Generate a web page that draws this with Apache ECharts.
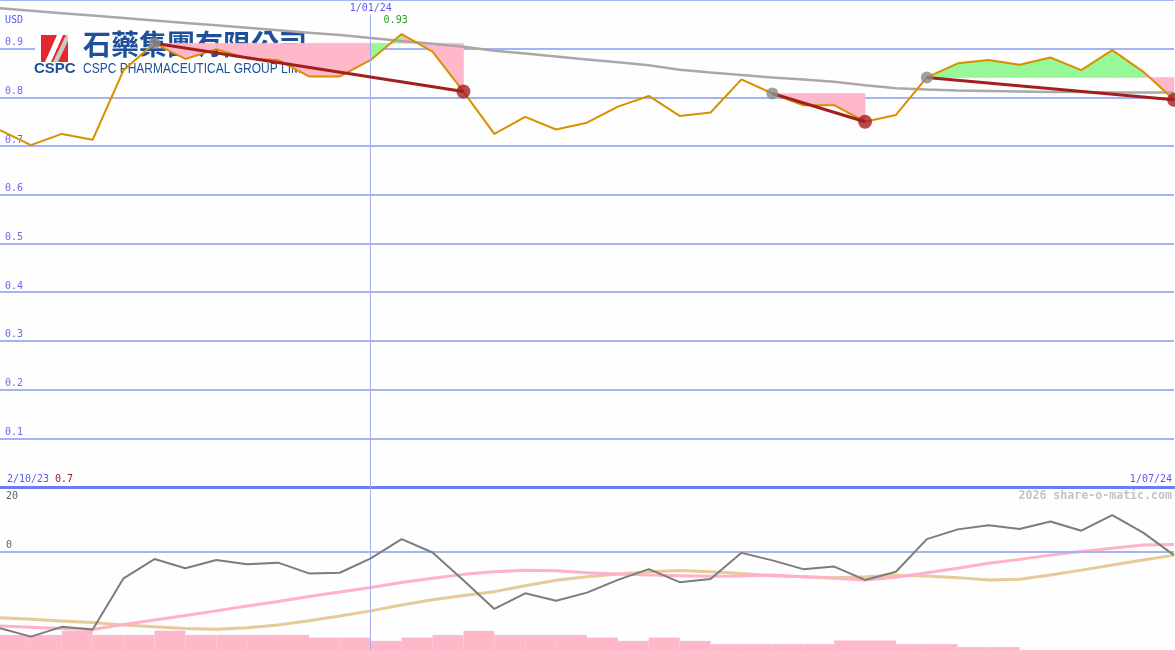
<!DOCTYPE html>
<html><head><meta charset="utf-8">
<script src="https://cdn.jsdelivr.net/npm/echarts@6/dist/echarts.min.js"></script>
<style>html,body{margin:0;padding:0;background:#fdfefd;}#c{width:1175px;height:650px;}</style>
</head><body><div id="c"></div>
<script>
// ---- data ----
const dates = ['9/10/23','16/10/23','23/10/23','30/10/23','6/11/23','13/11/23','20/11/23','27/11/23','4/12/23','11/12/23','18/12/23','25/12/23','1/01/24',
  '8/01/24','15/01/24','22/01/24','29/01/24','5/02/24','12/02/24','19/02/24','26/02/24','4/03/24','11/03/24','18/03/24','25/03/24','1/04/24',
  '8/04/24','15/04/24','22/04/24','29/04/24','6/05/24','13/05/24','20/05/24','27/05/24','3/06/24','10/06/24','17/06/24','24/06/24','1/07/24'];
const price = [0.733,0.702,0.725,0.713,0.856,0.911,0.879,0.899,0.880,0.877,0.843,0.843,0.877,
  0.930,0.894,0.812,0.725,0.760,0.734,0.748,0.781,0.803,0.762,0.769,0.837,0.808,
  0.784,0.784,0.750,0.764,0.841,0.870,0.877,0.867,0.882,0.856,0.897,0.853,0.795];
const priceAvg = [0.983,0.978,0.973,0.968,0.963,0.958,0.953,0.948,0.943,0.938,0.933,0.928,0.922,
  0.916,0.910,0.904,0.896,0.890,0.884,0.878,0.872,0.866,0.857,0.851,0.846,0.841,
  0.837,0.832,0.825,0.819,0.816,0.814,0.813,0.812,0.811,0.811,0.810,0.810,0.810];
const oscillator = [-23.3,-25.9,-22.9,-23.7,-8.0,-2.1,-4.9,-2.4,-3.7,-3.2,-6.5,-6.3,-1.9,
  4.0,-0.1,-8.6,-17.4,-12.6,-14.9,-12.4,-8.5,-5.2,-9.2,-8.2,-0.2,-2.5,
  -5.2,-4.4,-8.5,-6.0,4.0,7.0,8.3,7.1,9.4,6.6,11.4,6.0,-0.9];
const oscFast = [-22.6,-23.0,-23.4,-23.7,-22.2,-20.8,-19.4,-18.0,-16.5,-15.1,-13.6,-12.2,-10.8,
  -9.3,-8.0,-6.8,-6.0,-5.5,-5.7,-6.3,-6.7,-7.0,-7.2,-7.4,-7.3,-7.0,
  -7.5,-8.0,-8.5,-7.7,-6.3,-4.9,-3.4,-2.2,-0.9,0.2,1.2,2.2,2.4];
const oscSlow = [-20.1,-20.6,-21.1,-21.6,-22.3,-22.9,-23.4,-23.6,-23.2,-22.3,-21.0,-19.6,-18.0,
  -16.2,-14.6,-13.3,-12.1,-10.3,-8.6,-7.5,-6.7,-6.0,-5.6,-6.0,-6.5,-7.2,
  -7.5,-7.8,-7.5,-7.1,-7.3,-7.8,-8.5,-8.3,-7.0,-5.5,-3.9,-2.4,-0.9];
const volume = [4.6,4.6,5.9,4.6,4.6,5.9,4.6,4.6,4.6,4.6,3.8,3.8,2.8,3.8,4.6,5.9,4.6,4.6,4.6,
  3.8,2.8,3.8,2.8,1.8,1.8,1.8,1.8,2.9,2.9,1.8,1.8,0.9,0.9,0,0,0,0,0];
const trends = [[5,15],[25,28],[30,38]];
const currency = 'USD';
const periodStart = '2/10/23';
const periodEnd = '1/07/24';
const startPrice = '0.7';
const markerDate = '1/01/24';
const watermark = '2026 share-o-matic.com';

// ---- derived ----
const fillSegs = [];
trends.forEach(([s, e]) => {
  const lvl = price[s];
  for (let i = s; i < e; i++) fillSegs.push([i, price[i], price[i + 1], lvl, price[i + 1] > lvl ? 1 : 0]);
});
const maxIdx = price.indexOf(Math.max(...price));
const mono = 'DejaVu Sans Mono';
const blue = '#5a5aee';
const gridBlue = '#a6b3f2';

const chart = echarts.init(document.getElementById('c'), null, {renderer: 'canvas'});
const trendSeries = trends.map(([s, e]) => ({
  type: 'line', xAxisIndex: 0, yAxisIndex: 0, z: 5, symbol: 'none', silent: true,
  data: [[s, price[s]], [e, price[e]]],
  lineStyle: {color: '#a31f1f', width: 3}
}));

chart.setOption({
  animation: false,
  backgroundColor: '#fdfefd',
  grid: [
    {left: 0, right: 1, top: 0, height: 487, outerBoundsMode: 'none'},
    {left: 0, right: 1, top: 487, height: 163, outerBoundsMode: 'none'}
  ],
  xAxis: [
    {type: 'category', gridIndex: 0, data: dates, boundaryGap: false,
     axisLine: {show: true, onZero: false, lineStyle: {color: '#6d7cf0', width: 3}},
     axisTick: {show: false}, axisLabel: {show: false}, splitLine: {show: false}},
    {type: 'category', gridIndex: 1, data: dates, boundaryGap: false, show: false},
    {type: 'category', gridIndex: 1, data: dates.slice(0, -1), boundaryGap: true, show: false}
  ],
  yAxis: [
    {type: 'value', gridIndex: 0, min: 0, max: 1, interval: 0.1,
     axisLine: {show: false}, axisTick: {show: false},
     splitLine: {show: true, lineStyle: {color: gridBlue, width: 2}},
     axisLabel: {inside: true, margin: 5, verticalAlign: 'bottom', padding: [0, 0, 1, 0],
       color: '#6a6aee', fontFamily: mono, fontSize: 10,
       formatter: v => (v < 0.05 || v > 0.95) ? '' : v.toFixed(1)}},
    {type: 'value', gridIndex: 1, min: -30, max: 20, interval: 10, position: 'left',
     axisLine: {show: false}, axisTick: {show: false}, splitLine: {show: false},
     axisLabel: {inside: true, margin: 6, verticalAlign: 'bottom', padding: [0, 0, 2, 0],
       color: '#606060', fontFamily: mono, fontSize: 10,
       formatter: v => (v === 0 || v === -30) ? String(v) : ''}},
    {type: 'value', gridIndex: 1, min: -30, max: 20, interval: 10, position: 'left',
     axisLine: {show: false}, axisTick: {show: false}, splitLine: {show: false},
     axisLabel: {inside: true, margin: 6, verticalAlign: 'top', padding: [4, 0, 0, 0],
       color: '#606060', fontFamily: mono, fontSize: 10,
       formatter: v => v === 20 ? '20' : ''}},
    {type: 'value', gridIndex: 1, min: 0, max: 50, show: false}
  ],
  graphic: [
    {type: 'rect', z: 1, shape: {x: 35, y: 30, width: 312, height: 48}, style: {fill: '#ffffff'}},
    {type: 'rect', z: 1, shape: {x: 41, y: 35, width: 27, height: 27}, style: {fill: '#e5282e'}},
    {type: 'polygon', z: 1, shape: {points: [[45, 62], [51, 62], [63, 35], [57, 35]]}, style: {fill: '#ffffff'}},
    {type: 'polygon', z: 1, shape: {points: [[53, 62], [58, 62], [68, 41], [68, 35], [66, 35]]}, style: {fill: '#c9c9c9'}},
    {type: 'text', z: 1, x: 34, y: 61, style: {text: 'CSPC', fontFamily: 'Liberation Sans', fontWeight: 'bold', fontSize: 15, fill: '#1d4f9a', verticalAlign: 'top'}},
    {type: 'text', z: 1, x: 83, y: 30, style: {text: '石藥集團有限公司', fontFamily: 'Noto Sans CJK TC', fontWeight: 'bold', fontSize: 28, fill: '#1d4f9a', verticalAlign: 'top'}},
    {type: 'text', z: 1, x: 83, y: 61, scaleX: 0.8, style: {text: 'CSPC PHARMACEUTICAL GROUP LIMITED', fontFamily: 'Liberation Sans', fontSize: 15, fill: '#1d4f9a', verticalAlign: 'top'}},
    {type: 'text', z: 10, x: 5, y: 20, style: {text: currency, fontFamily: mono, fontSize: 10, fill: blue, verticalAlign: 'middle'}},
    {type: 'text', z: 10, x: 7, y: 479, style: {text: periodStart, fontFamily: mono, fontSize: 10, fill: blue, verticalAlign: 'middle'}},
    {type: 'text', z: 10, x: 55, y: 479, style: {text: startPrice, fontFamily: mono, fontSize: 10, fill: '#a01818', verticalAlign: 'middle'}},
    {type: 'text', z: 10, x: 1172, y: 479, style: {text: periodEnd, fontFamily: mono, fontSize: 10, fill: blue, align: 'right', verticalAlign: 'middle'}},
    {type: 'text', z: 10, x: 1172, y: 496, style: {text: watermark, fontFamily: mono, fontWeight: 'bold', fontSize: 11.6, fill: '#c4c4c4', align: 'right', verticalAlign: 'middle'}}
  ],
  series: [
    {type: 'custom', xAxisIndex: 0, yAxisIndex: 0, z: 2, silent: true,
     data: fillSegs, encode: {x: 0, y: [1, 2, 3]},
     renderItem: (params, api) => {
       const i = api.value(0), a = api.value(1), b = api.value(2), l = api.value(3), up = api.value(4);
       const c = up ? '#96f896' : '#ffb8c9';
       return {type: 'polygon',
         shape: {points: [api.coord([i, l]), api.coord([i, a]), api.coord([i + 1, b]), api.coord([i + 1, l])]},
         style: {fill: c, stroke: c, lineWidth: 0.6}};
     }},
    {type: 'line', xAxisIndex: 0, yAxisIndex: 0, z: 3, symbol: 'none', silent: true, data: priceAvg,
     lineStyle: {color: '#a8a8a8', width: 2.5},
     markLine: {silent: true, symbol: 'none', animation: false,
       lineStyle: {color: '#a4acf6', width: 1, type: 'solid'},
       label: {show: true, position: 'start', distance: 1, formatter: markerDate, color: blue, fontFamily: mono, fontSize: 10},
       data: [[{coord: [markerDate, 0.97]}, {coord: [markerDate, 0]}]]}},
    {type: 'line', xAxisIndex: 0, yAxisIndex: 0, z: 4, symbol: 'none', silent: true, data: price,
     lineStyle: {color: '#d99000', width: 2},
     markPoint: {silent: true, symbol: 'circle', symbolSize: 1, itemStyle: {color: 'rgba(0,0,0,0)'},
       label: {show: true, position: 'inside', offset: [-6, -14], color: '#22a022', fontFamily: mono, fontSize: 10,
         formatter: () => price[maxIdx].toFixed(2)},
       data: [{coord: [maxIdx, price[maxIdx]]}]}},
    ...trendSeries,
    {type: 'scatter', xAxisIndex: 0, yAxisIndex: 0, z: 6, silent: true, symbolSize: 12,
     itemStyle: {color: '#8a8a8a'}, data: trends.map(t => [t[0], price[t[0]]])},
    {type: 'scatter', xAxisIndex: 0, yAxisIndex: 0, z: 6, silent: true, symbolSize: 14,
     itemStyle: {color: '#a51d1d'}, data: trends.map(t => [t[1], price[t[1]]])},
    {type: 'line', xAxisIndex: 1, yAxisIndex: 1, z: 2, symbol: 'none', silent: true, data: oscSlow,
     lineStyle: {color: '#e6cb99', width: 3},
     markLine: {silent: true, symbol: 'none', animation: false, label: {show: false},
       data: [
         {yAxis: 0, lineStyle: {color: gridBlue, width: 2, type: 'solid'}},
         [{coord: [markerDate, 20], lineStyle: {color: '#a4acf6', width: 1, type: 'solid'}}, {coord: [markerDate, -30]}]
       ]}},
    {type: 'bar', xAxisIndex: 2, yAxisIndex: 3, z: 3, silent: true, data: volume,
     barCategoryGap: '0%', itemStyle: {color: '#ffb8c9'}},
    {type: 'line', xAxisIndex: 1, yAxisIndex: 1, z: 4, symbol: 'none', silent: true, data: oscFast,
     lineStyle: {color: '#ffb1c8', width: 3}},
    {type: 'line', xAxisIndex: 1, yAxisIndex: 1, z: 5, symbol: 'none', silent: true, data: oscillator,
     lineStyle: {color: '#7c7c7c', width: 2}}
  ]
});
</script></body></html>
